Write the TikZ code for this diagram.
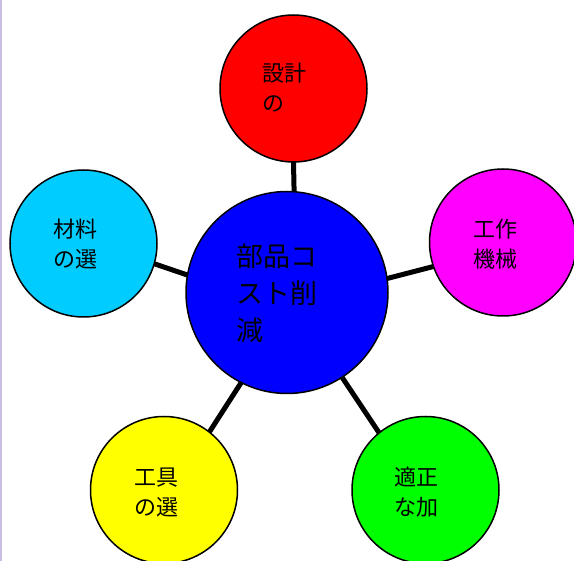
\documentclass[tikz,border=0pt]{standalone}
\usepackage{fontspec}
\usetikzlibrary{backgrounds,calc}
\newfontfamily\cjk{Noto Sans CJK JP}
\definecolor{cblue}{HTML}{0000FF}
\definecolor{cred}{HTML}{FF0000}
\definecolor{ccyan}{HTML}{00CCFF}
\definecolor{cmag}{HTML}{FF00FF}
\definecolor{cyel}{HTML}{FFFF00}
\definecolor{cgreen}{HTML}{00FF00}
\definecolor{edgeline}{RGB}{200,190,225}
\tikzset{
  bubble/.style={circle, draw=black, line width=1.5pt, inner sep=0pt, minimum size=147pt},
  hub/.style={circle, draw=black, line width=1.5pt, inner sep=0pt, minimum size=202pt},
  spoke/.style={line width=5pt, black},
  smalltxt/.style={align=left, inner sep=0pt, font=\cjk\fontsize{22}{30}\selectfont},
  bigtxt/.style={align=left, inner sep=0pt, font=\cjk\fontsize{27}{37}\selectfont},
}
\newcommand{\spokeline}[2]{\draw[spoke] ($(#1)!-8pt!(#2)$) -- ($(#2)!-8pt!(#1)$);}
\begin{document}
\begin{tikzpicture}[x=1pt, y=-1pt]
\useasboundingbox (0,0) rectangle (574,561);
\node[hub, fill=cblue] (c) at (287,292.5) {};
\node[bubble, fill=cred] (r) at (293.5,88.5) {};
\node[bubble, fill=ccyan] (l) at (83.5,243.5) {};
\node[bubble, fill=cmag] (m) at (503,242.5) {};
\node[bubble, fill=cyel] (y) at (164,490) {};
\node[bubble, fill=cgreen] (g) at (425.5,490) {};
\begin{scope}[on background layer]
\fill[white] (0,0) rectangle (574,561);
\draw[edgeline, line width=1.5pt] (0.75,0) -- (0.75,561);
\spokeline{c.86.6}{r.-90}
\spokeline{c.170}{l.-16.7}
\spokeline{c.8.2}{m.199.3}
\spokeline{c.243}{y.52.8}
\spokeline{c.-57.8}{g.129.3}
\end{scope}
\node[bigtxt] (tc) at (277,293.5) {部品コ\\スト削\\減};
\node[smalltxt] (tr) at (284,88) {設計\\の};
\node[smalltxt] (tl) at (75,244) {材料\\の選};
\node[smalltxt] (tm) at (495.5,244) {工作\\機械};
\node[smalltxt] (ty) at (156,493) {工具\\の選};
\node[smalltxt] (tg) at (416.5,492) {適正\\な加};
\end{tikzpicture}
\end{document}
